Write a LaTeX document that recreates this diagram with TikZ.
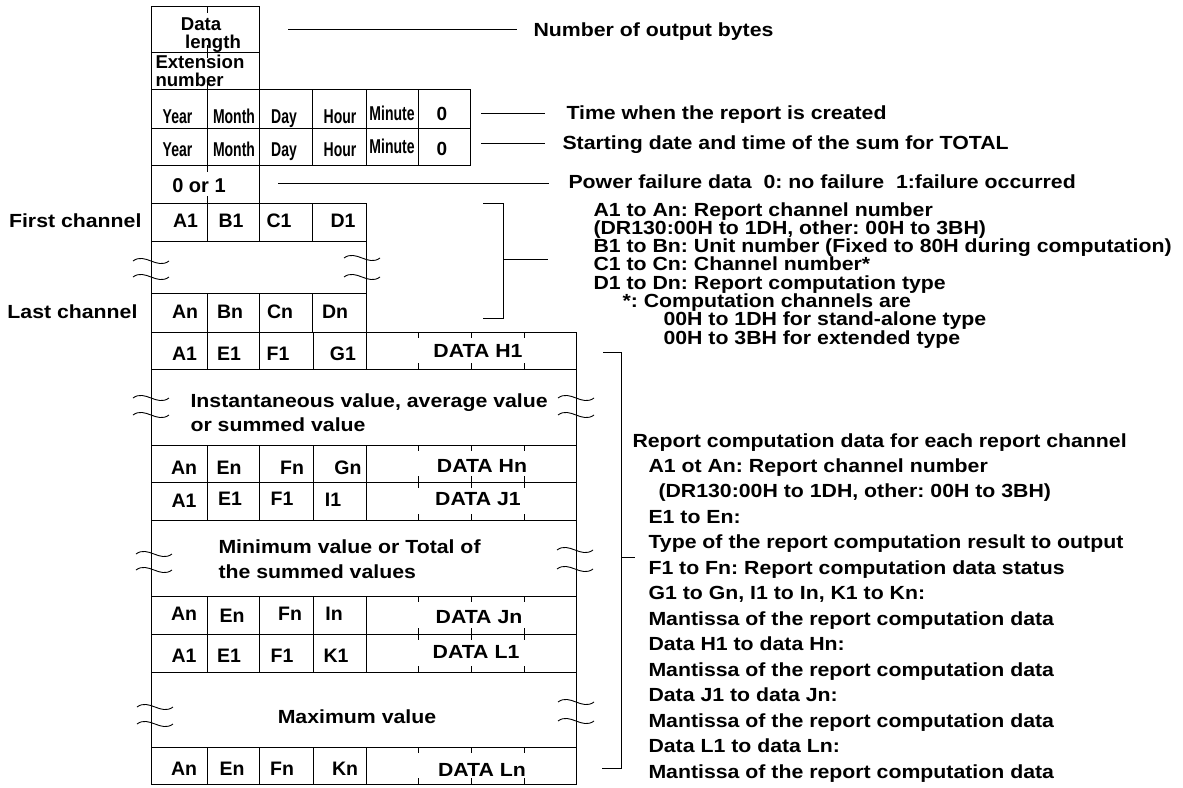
\documentclass[tikz,border=0pt]{standalone}
\usepackage{fontspec}
\setmainfont{Liberation Sans}
\newfontfamily\wideF{Liberation Sans}[FakeStretch=1.12]
\newfontfamily\narrowF{Liberation Sans}[FakeStretch=0.7]
\newcommand\fsz[1]{\fontsize{#1}{#1}\selectfont\bfseries\frenchspacing}
\tikzset{
  lw/.style={line width=1pt},
  cell/.style={inner sep=0pt, anchor=base, font=\fsz{19.5}},
  wcell/.style={inner sep=0pt, anchor=base, font=\wideF\fsz{19}},
  ncell/.style={inner sep=0pt, anchor=base, font=\narrowF\fsz{20}},
  lbl/.style={inner sep=0pt, anchor=base west, font=\wideF\fsz{19}},
  blk/.style={inner sep=0pt, anchor=base west, font=\wideF\fsz{19}},
  wblk/.style={inner sep=0pt, anchor=base west, font=\wideF\fsz{19}},
  wave/.pic={\draw[line width=0.9pt] (0,0) .. controls (12,-9) and (24,9) .. (36,0);}
}
\begin{document}
\begin{tikzpicture}[x=1pt,y=-1pt,lw]
\fill[white] (0,0) rectangle (1183,787);
\useasboundingbox (0,0) rectangle (1183,787);

% ---------- top boxes ----------
\draw (151,6) rectangle (259,52);
\draw (151,52) rectangle (259,89);
\draw (207,6)--(207,13) (207,45)--(207,52) (207,52)--(207,58) (207,82)--(207,89);
\node[cell, font=\fsz{18.6}] (dl1) at (201,30) {Data};
\node[cell, font=\fsz{18.6}] (dl2) at (213,48) {length};
\node[cell, font=\fsz{18.6}, anchor=base west] (ex1) at (155,68) {Extension};
\node[cell, font=\fsz{18.6}, anchor=base west] (ex2) at (155,86) {number};

% ---------- date rows ----------
\draw (151,89) rectangle (470,165);
\draw (151,128)--(470,128);
\foreach \xx in {207,259,312,366,418} \draw (\xx,89)--(\xx,165);
\node[ncell] (y1) at (177.5,123) {Year};
\node[ncell] (mo1) at (234,123) {Month};
\node[ncell] (d1) at (284,123) {Day};
\node[ncell] (h1) at (340,123) {Hour};
\node[ncell] (mi1) at (392,120) {Minute};
\node[cell, font=\fsz{19}] (z1) at (442,120) {0};
\node[ncell] (y2) at (177.5,156) {Year};
\node[ncell] (mo2) at (234,156) {Month};
\node[ncell] (d2) at (284,156) {Day};
\node[ncell] (h2) at (340,156) {Hour};
\node[ncell] (mi2) at (392,153) {Minute};
\node[cell, font=\fsz{19}] (z2) at (442,155) {0};

% ---------- power failure ----------
\draw (151,165) rectangle (259,203);
\draw (207,165)--(207,172) (207,196)--(207,203);
\node[cell, font=\fsz{20}] (pf) at (199,192) {0 or 1};

% ---------- channel rows ----------
\draw (151,203) rectangle (366,332);
\draw (151,241)--(366,241) (151,293)--(366,293);
\foreach \xx in {207,259,312} {\draw (\xx,203)--(\xx,241); \draw (\xx,293)--(\xx,332);}
\node[wcell, anchor=base east] (fc) at (142,227) {First channel};
\node[wcell, anchor=base east] (lc) at (138,318) {Last channel};
\node[cell] (a1) at (185.5,227) {A1};
\node[cell] (b1) at (231,227) {B1};
\node[cell] (c1) at (279,227) {C1};
\node[cell] (dd1) at (343,227) {D1};
\node[cell] (an) at (185,318) {An};
\node[cell] (bn) at (230,318) {Bn};
\node[cell] (cn) at (280,318) {Cn};
\node[cell] (dn) at (335,318) {Dn};
\pic at (133,261) {wave};
\pic at (133,277) {wave};
\pic at (344,258) {wave};
\pic at (344,277) {wave};

% ---------- data section ----------
\draw (151,332) rectangle (576,784);
\foreach \yy in {369,445,482,520,596,634,672,747} \draw (151,\yy)--(576,\yy);
\foreach \ya/\yb in {332/369,445/482,482/520,596/634,634/672,747/784} {
  \foreach \xx in {207,259,313,366} \draw (\xx,\ya)--(\xx,\yb);
  \foreach \xx in {418,471,524} {\draw (\xx,\ya)--(\xx,\ya+6); \draw (\xx,\yb-6)--(\xx,\yb);}
}
% row H1
\node[cell] (r1a) at (184.5,360) {A1};
\node[cell] (r1e) at (229,360) {E1};
\node[cell] (r1f) at (278,360) {F1};
\node[cell] (r1g) at (343,360) {G1};
\node[wcell] (r1d) at (478,357) {DATA H1};
\node[wblk] (inst1) at (190,407) {Instantaneous value, average value};
\node[wblk] (inst2) at (190,431) {or summed value};
\pic at (133,398) {wave};
\pic at (133,415) {wave};
\pic at (558,398) {wave};
\pic at (558,415) {wave};
% row Hn
\node[cell] (r2a) at (184,474) {An};
\node[cell] (r2e) at (229,474) {En};
\node[cell] (r2f) at (292,474) {Fn};
\node[cell] (r2g) at (348,474) {Gn};
\node[wcell] (r2d) at (482,472) {DATA Hn};
% row J1
\node[cell] (r3a) at (184,507) {A1};
\node[cell] (r3e) at (230,505) {E1};
\node[cell] (r3f) at (282,505) {F1};
\node[cell] (r3i) at (333,506) {I1};
\node[wcell] (r3d) at (478,505) {DATA J1};
\node[wblk] (min1) at (218,553) {Minimum value or Total of};
\node[wblk] (min2) at (218,578) {the summed values};
\pic at (136,554) {wave};
\pic at (136,570) {wave};
\pic at (557,550) {wave};
\pic at (557,569) {wave};
% row Jn
\node[cell] (r4a) at (184,620) {An};
\node[cell] (r4e) at (232,622) {En};
\node[cell] (r4f) at (290,620) {Fn};
\node[cell] (r4i) at (334,620) {In};
\node[wcell] (r4d) at (479,623) {DATA Jn};
% row L1
\node[cell] (r5a) at (184,662) {A1};
\node[cell] (r5e) at (229,662) {E1};
\node[cell] (r5f) at (282,662) {F1};
\node[cell] (r5k) at (336,662) {K1};
\node[wcell] (r5d) at (476,658) {DATA L1};
\node[wcell] (max) at (357,723) {Maximum value};
\pic at (137,707) {wave};
\pic at (137,724) {wave};
\pic at (558,702) {wave};
\pic at (558,721) {wave};
% row Ln
\node[cell] (r6a) at (184,775) {An};
\node[cell] (r6e) at (232,775) {En};
\node[cell] (r6f) at (282,775) {Fn};
\node[cell] (r6k) at (345,775) {Kn};
\node[wcell] (r6d) at (482,776) {DATA Ln};

% ---------- leaders and labels ----------
\coordinate (nb0) at (288,29); \coordinate (nb1) at (517,29);
\draw (nb0)--(nb1);
\node[lbl] (nob) at (533,36) {Number of output bytes};
\coordinate (tm0) at (481,113); \coordinate (tm1) at (545,113);
\draw (tm0)--(tm1);
\node[lbl] (trc) at (566,119) {Time when the report is created};
\coordinate (st0) at (481,143); \coordinate (st1) at (545,143);
\draw (st0)--(st1);
\node[lbl] (sdt) at (562,149) {Starting date and time of the sum for TOTAL};
\coordinate (pw0) at (278,183); \coordinate (pw1) at (549,183);
\draw (pw0)--(pw1);
\node[lbl] (pfd) at (568,188) {Power failure data\ \ 0: no failure\ \ 1:failure occurred};

% bracket 1
\coordinate (b1t) at (483,203); \coordinate (b1b) at (483,318);
\coordinate (b1m) at (503,259); \coordinate (b1s) at (548,259);
\draw (b1t)--(503,203)--(503,318)--(b1b);
\draw (b1m)--(b1s);
\node[blk] (t1) at (593,216) {A1 to An: Report channel number};
\node[blk] (t2) at (593,234.3) {(DR130:00H to 1DH, other: 00H to 3BH)};
\node[blk] (t3) at (593,252.6) {B1 to Bn: Unit number (Fixed to 80H during computation)};
\node[blk] (t4) at (593,270.9) {C1 to Cn: Channel number*};
\node[blk] (t5) at (593,289.2) {D1 to Dn: Report computation type};
\node[blk] (t6) at (622,307.5) {*: Computation channels are};
\node[blk] (t7) at (663,325.8) {00H to 1DH for stand-alone type};
\node[blk] (t8) at (663,344.1) {00H to 3BH for extended type};

% bracket 2
\coordinate (b2t) at (603,352); \coordinate (b2b) at (602,768);
\coordinate (b2m) at (621,557); \coordinate (b2s) at (635,557);
\draw (b2t)--(621,352)--(621,768)--(b2b);
\draw (b2m)--(b2s);
\node[wblk] (u1) at (632,447) {Report computation data for each report channel};
\node[wblk] (u2) at (648,472.5) {A1 ot An: Report channel number};
\node[wblk] (u3) at (658,497.9) {(DR130:00H to 1DH, other: 00H to 3BH)};
\node[wblk] (u4) at (648,523.4) {E1 to En:};
\node[wblk] (u5) at (648,548.8) {Type of the report computation result to output};
\node[wblk] (u6) at (648,574.3) {F1 to Fn: Report computation data status};
\node[wblk] (u7) at (648,599.8) {G1 to Gn, I1 to In, K1 to Kn:};
\node[wblk] (u8) at (648,625.2) {Mantissa of the report computation data};
\node[wblk] (u9) at (648,650.7) {Data H1 to data Hn:};
\node[wblk] (u10) at (648,676.1) {Mantissa of the report computation data};
\node[wblk] (u11) at (648,701.6) {Data J1 to data Jn:};
\node[wblk] (u12) at (648,727.1) {Mantissa of the report computation data};
\node[wblk] (u13) at (648,752.5) {Data L1 to data Ln:};
\node[wblk] (u14) at (648,778) {Mantissa of the report computation data};
\end{tikzpicture}
\end{document}
